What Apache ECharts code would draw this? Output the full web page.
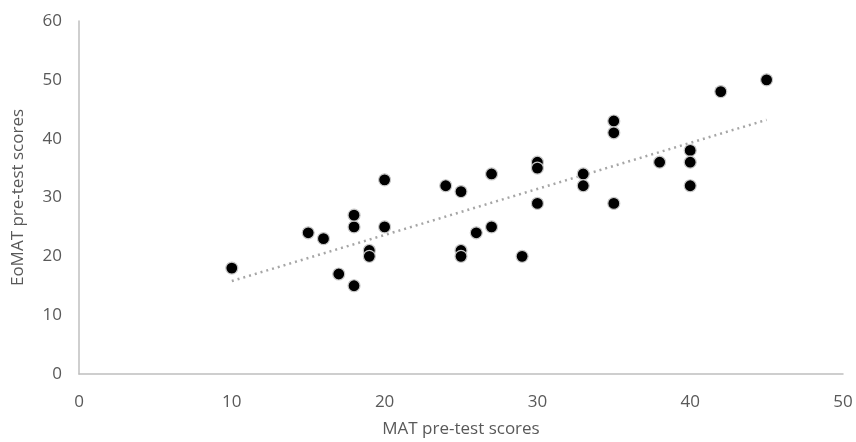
<!DOCTYPE html>
<html>
<head>
<meta charset="utf-8">
<script src="https://cdn.jsdelivr.net/npm/echarts@6/dist/echarts.min.js"></script>
<style>
  html, body { margin: 0; padding: 0; background: #fff; }
  #myChart { width: 856px; height: 442px; }
</style>
</head>
<body>
<div id="myChart"></div>
<script>
// MAT pre-test (x) vs EoMAT pre-test (y)
const matScores = [10, 15, 16, 17, 18, 18, 18, 19, 19, 20, 20, 24, 25, 25, 25, 26, 27, 27, 29,
  30, 30, 30, 33, 33, 35, 35, 35, 38, 40, 40, 40, 42, 45]
const eomatScores = [18, 24, 23, 17, 15, 25, 27, 21, 20, 33, 25, 32, 31, 21, 20, 24, 34, 25, 20,
  36, 35, 29, 34, 32, 43, 41, 29, 36, 38, 36, 32, 48, 50]

// linear trendline (ends)
const trendX = [10, 45]
const trendY = [15.8, 43.2]

const xTicks = [0, 10, 20, 30, 40, 50]
const yTicks = [0, 10, 20, 30, 40, 50, 60]

const points = matScores.map((x, i) => [x, eomatScores[i]])
const trend = trendX.map((x, i) => [x, trendY[i]])

const font = '"Open Sans", sans-serif'
const textColor = '#595959'

let myChart = echarts.init(document.getElementById('myChart'))
myChart.setOption({
  animation: false,
  grid: { left: 79, right: 13, top: 21, bottom: 68, outerBoundsMode: 'none' },
  xAxis: {
    type: 'value',
    min: xTicks[0],
    max: xTicks[xTicks.length - 1],
    interval: 10,
    name: 'MAT pre-test scores',
    nameLocation: 'middle',
    nameGap: 47,
    nameTextStyle: { color: textColor, fontSize: 17, fontFamily: font },
    axisLine: { lineStyle: { color: '#bfbfbf', width: 1.5 } },
    axisTick: { show: false },
    splitLine: { show: false },
    axisLabel: { color: textColor, fontSize: 17, fontFamily: font, margin: 20 }
  },
  yAxis: {
    type: 'value',
    min: yTicks[0],
    max: yTicks[yTicks.length - 1],
    interval: 10,
    name: 'EoMAT pre-test scores',
    nameLocation: 'middle',
    nameGap: 52,
    nameTextStyle: { color: textColor, fontSize: 17, fontFamily: font },
    axisLine: { show: true, lineStyle: { color: '#bfbfbf', width: 1.5 } },
    axisTick: { show: false },
    splitLine: { show: false },
    axisLabel: { color: textColor, fontSize: 17, fontFamily: font, margin: 17 }
  },
  series: [
    {
      name: 'Trend',
      type: 'line',
      data: trend,
      symbol: 'none',
      lineStyle: { color: '#a6a6a6', width: 2.5, type: [2, 4] },
      z: 1
    },
    {
      name: 'Scores',
      type: 'scatter',
      data: points,
      symbolSize: 12,
      itemStyle: { color: '#000', opacity: 1, borderColor: '#c8c8c8', borderWidth: 1.2 },
      z: 2
    }
  ]
})
</script>
</body>
</html>
